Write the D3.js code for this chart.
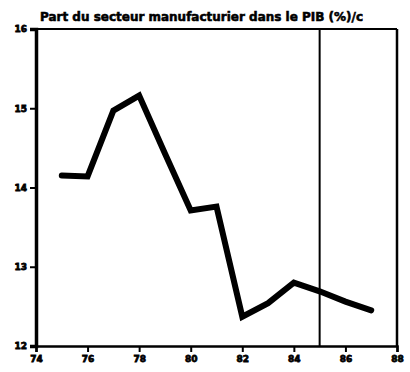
<!DOCTYPE html>
<html><head><meta charset="utf-8">
<script src="https://cdn.jsdelivr.net/npm/d3@7"></script>
<style>body{margin:0;background:#fff}svg{display:block}</style>
</head><body><svg id="c" width="410" height="372"></svg>
<script>
const years = [75,76,77,78,79,80,81,82,83,84,85,86,87];
const share = [14.15,14.14,14.97,15.16,14.43,13.71,13.76,12.37,12.54,12.80,12.69,12.56,12.45];
const xTicks = [74,76,78,80,82,84,86,88];
const yTicks = [12,13,14,15,16];
const markerYear = 85;
const title = "Part du secteur manufacturier dans le PIB (%)/c";

const svg = d3.select("#c");
const m = {l:36, r:397, t:29, b:346};
const x = d3.scaleLinear().domain([74,88]).range([m.l, m.r]);
const y = d3.scaleLinear().domain([12,16]).range([m.b, m.t]);

// frame
svg.append("line").attr("x1",m.l).attr("x2",m.r).attr("y1",m.t).attr("y2",m.t).attr("stroke","#000").attr("stroke-width",2);
svg.append("line").attr("x1",m.r).attr("x2",m.r).attr("y1",m.t).attr("y2",m.b).attr("stroke","#000").attr("stroke-width",2.5);

const xa = svg.append("g").attr("transform",`translate(0,${m.b})`)
  .call(d3.axisBottom(x).tickValues(xTicks).tickSize(6).tickPadding(4).tickFormat(d3.format("d")));
const ya = svg.append("g").attr("transform",`translate(${m.l},0)`)
  .call(d3.axisLeft(y).tickValues(yTicks).tickSize(6).tickPadding(3).tickFormat(d3.format("d")));
[xa,ya].forEach(g=>{
  g.selectAll("line").attr("stroke","#000").attr("stroke-width",2);
  g.selectAll("text").attr("fill","#000").attr("stroke","#000").attr("stroke-width",0.8)
    .style("font-family","DejaVu Sans").style("font-weight","bold").style("font-size","9px");
});
xa.select(".domain").attr("stroke","#000").attr("stroke-width",2.5);
ya.select(".domain").attr("stroke","#000").attr("stroke-width",3.5);

// marker line
svg.append("line").attr("x1",x(markerYear)).attr("x2",x(markerYear)).attr("y1",m.t).attr("y2",m.b).attr("stroke","#000").attr("stroke-width",2);

// data
svg.append("path").datum(years.map((d,i)=>[d,share[i]]))
  .attr("d", d3.line().x(d=>x(d[0])).y(d=>y(d[1])))
  .attr("fill","none").attr("stroke","#000").attr("stroke-width",6)
  .attr("stroke-linejoin","miter").attr("stroke-linecap","round");

svg.append("text").attr("x",40).attr("y",21).text(title)
  .attr("textLength",323).attr("lengthAdjust","spacingAndGlyphs")
  .attr("stroke","#000").attr("stroke-width",0.6)
  .style("font-family","DejaVu Sans").style("font-weight","bold").style("font-size","13px");
</script></body></html>
